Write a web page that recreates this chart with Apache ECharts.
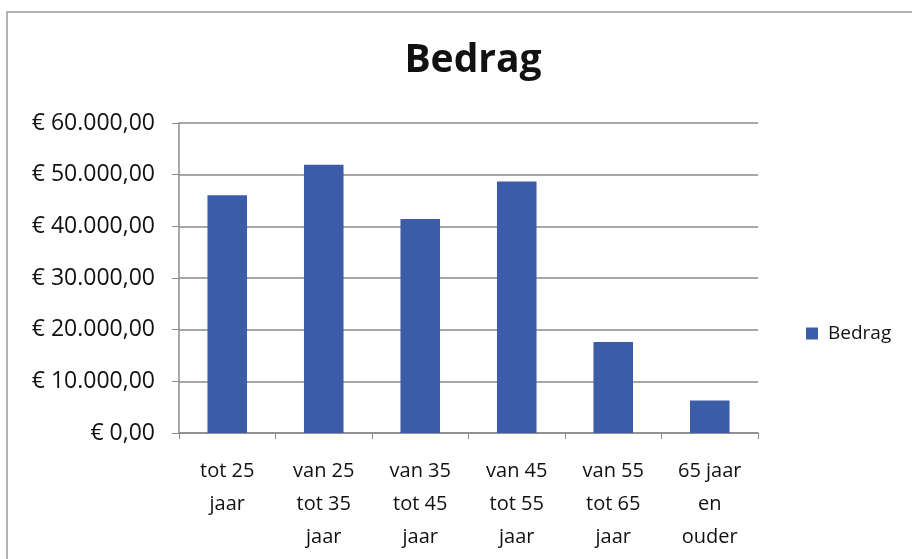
<!DOCTYPE html>
<html>
<head>
<meta charset="utf-8">
<script src="https://cdn.jsdelivr.net/npm/echarts@6/dist/echarts.min.js"></script>
<style>
html, body { margin: 0; padding: 0; background: #fff; }
#chart { width: 912px; height: 559px; }
</style>
</head>
<body>
<div id="chart"></div>
<script>
// leeftijdsgroepen en bedragen
var categories = ['tot 25\njaar', 'van 25\ntot 35\njaar', 'van 35\ntot 45\njaar', 'van 45\ntot 55\njaar', 'van 55\ntot 65\njaar', '65 jaar\nen\nouder'];
var bedrag = [46000, 51900, 41400, 48700, 17600, 6300];
var yTicks = [0, 10000, 20000, 30000, 40000, 50000, 60000];

function euro(v) {
    var s = String(Math.round(v)).replace(/\B(?=(\d{3})+(?!\d))/g, '.');
    return '€ ' + s + ',00';
}

var myChart = echarts.init(document.getElementById('chart'));
var gray = '#8a8a8a';
var font = '"Open Sans", Lato, sans-serif';

var option = {
    animation: false,
    title: {
        text: 'Bedrag',
        left: 468,
        top: 36,
        textAlign: 'center',
        textStyle: { fontSize: 39, fontWeight: 'bold', color: '#111', fontFamily: font }
    },
    graphic: [{
        type: 'rect',
        shape: { x: 7, y: 12, width: 920, height: 560 },
        style: { fill: 'none', stroke: '#9a9a9a', lineWidth: 1.5 },
        silent: true
    }],
    legend: {
        data: ['Bedrag'],
        orient: 'vertical',
        left: 801,
        top: 319,
        itemWidth: 12,
        itemHeight: 12,
        icon: 'rect',
        textStyle: { fontSize: 19, color: '#111', fontFamily: font, padding: [0, 0, 0, 5] }
    },
    grid: { left: 179, right: 154, top: 123, bottom: 126 },
    xAxis: {
        type: 'category',
        data: categories,
        axisLine: { lineStyle: { color: gray, width: 1.5 } },
        axisTick: { show: true, length: 6, lineStyle: { color: gray } },
        axisLabel: { color: '#111', fontSize: 20, lineHeight: 33, margin: 22, fontFamily: font, interval: 0 }
    },
    yAxis: {
        type: 'value',
        min: yTicks[0],
        max: yTicks[yTicks.length - 1],
        interval: 10000,
        axisLine: { show: true, lineStyle: { color: gray, width: 1.5 } },
        axisTick: { show: true, length: 7, lineStyle: { color: gray } },
        splitLine: { lineStyle: { color: gray, width: 1.5 } },
        axisLabel: { color: '#111', fontSize: 23, margin: 24, fontFamily: font, formatter: euro }
    },
    series: [{
        name: 'Bedrag',
        type: 'bar',
        data: bedrag,
        barWidth: '41%',
        itemStyle: { color: '#3d5ca7' }
    }]
};

myChart.setOption(option);
</script>
</body>
</html>
